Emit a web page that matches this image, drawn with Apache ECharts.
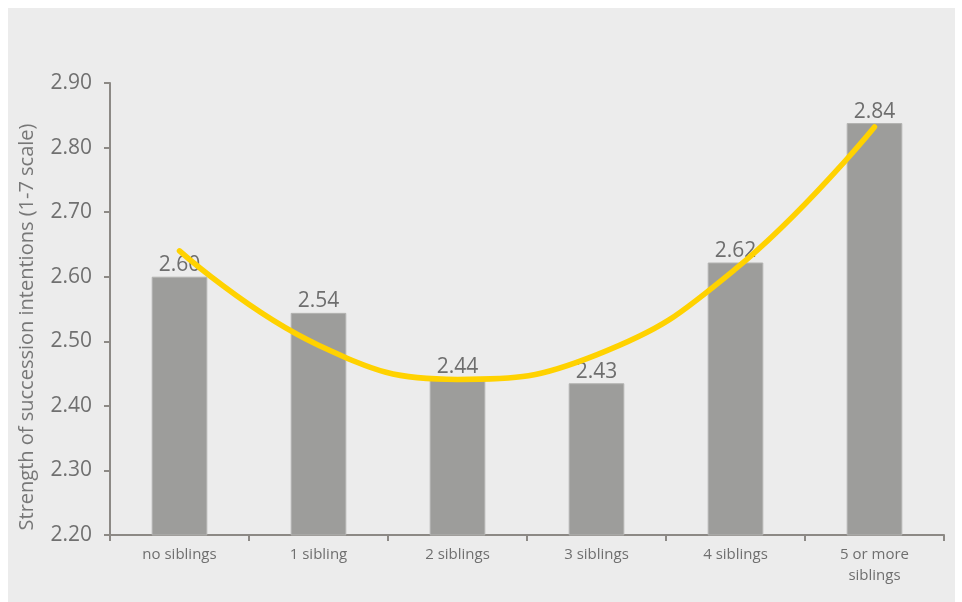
<!DOCTYPE html>
<html>
<head>
<meta charset="utf-8">
<script src="https://cdn.jsdelivr.net/npm/echarts@6/dist/echarts.min.js"></script>
<style>
html,body{margin:0;padding:0;background:#ffffff;}
#chart{width:962px;height:602px;}
</style>
</head>
<body>
<div id="chart"></div>
<script>
const categories = ["no siblings", "1 sibling", "2 siblings", "3 siblings", "4 siblings", "5 or more\nsiblings"];
const barValues = [2.600, 2.544, 2.442, 2.435, 2.622, 2.838];
const barLabels = ["2.60", "2.54", "2.44", "2.43", "2.62", "2.84"];
const trendValues = [2.640, 2.494, 2.441, 2.479, 2.612, 2.832];
const yTicks = { min: 2.2, max: 2.9, interval: 0.1 };
const yAxisTitle = "Strength of succession intentions (1-7 scale)";

const FONT = "Open Sans";
const chart = echarts.init(document.getElementById('chart'));
chart.setOption({
  animation: false,
  backgroundColor: '#ffffff',
  graphic: [{
    type: 'rect', z: -10, silent: true,
    shape: { x: 8, y: 8, width: 947, height: 600 },
    style: { fill: '#ececec' }
  }],
  grid: { left: 110, right: 18, top: 83, bottom: 67 },
  xAxis: {
    type: 'category',
    data: categories,
    axisLine: { lineStyle: { color: '#8c8985', width: 2 } },
    axisTick: { show: true, length: 6, lineStyle: { color: '#8c8985', width: 2 } },
    axisLabel: { color: '#6f6f6f', fontSize: 15, fontFamily: FONT, margin: 9, lineHeight: 21, interval: 0 }
  },
  yAxis: {
    type: 'value',
    min: yTicks.min, max: yTicks.max, interval: yTicks.interval,
    name: yAxisTitle,
    nameLocation: 'middle',
    nameGap: 73,
    nameTextStyle: { color: '#777777', fontSize: 20, fontFamily: FONT, padding: [0, 36, 0, 0] },
    axisLine: { show: true, lineStyle: { color: '#8c8985', width: 2 } },
    axisTick: { show: true, length: 6, lineStyle: { color: '#8c8985', width: 2 } },
    splitLine: { show: false },
    axisLabel: { color: '#707070', fontSize: 21, fontFamily: FONT, margin: 18,
      formatter: v => v.toFixed(2) }
  },
  series: [{
    type: 'bar',
    data: barValues,
    barWidth: '40%',
    itemStyle: { color: '#9d9d9b', borderColor: '#b3b3b1', borderWidth: 1 },
    label: {
      show: true, position: 'top', distance: 1,
      color: '#6e6e6e', fontSize: 21, fontFamily: FONT,
      formatter: p => barLabels[p.dataIndex]
    },
    z: 2
  }, {
    type: 'line',
    data: trendValues,
    smooth: 0.45,
    symbol: 'none',
    lineStyle: { color: '#ffd200', width: 5.5, cap: 'round' },
    z: 3
  }]
});
</script>
</body>
</html>
